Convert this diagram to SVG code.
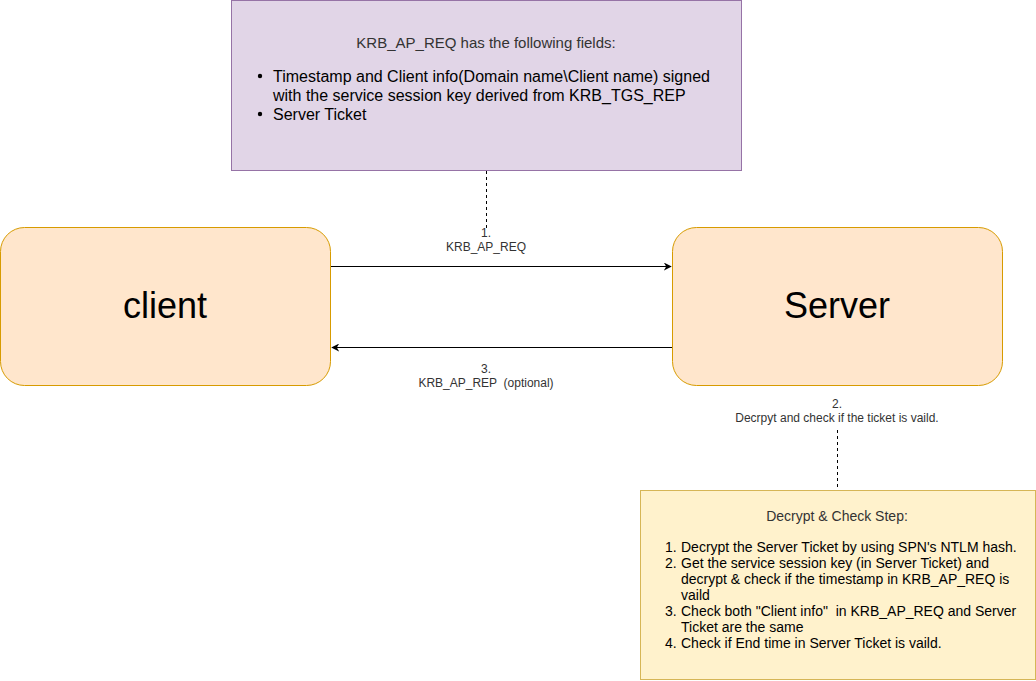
<svg xmlns="http://www.w3.org/2000/svg" width="1036" height="681" viewBox="0 0 1036 681">
<style>
text{font-family:"Liberation Sans",Arial,sans-serif;}
.lbl{font-size:12px;fill:#333;text-anchor:middle;}
.big{font-size:36px;fill:#000;text-anchor:middle;}
.pt{font-size:16px;fill:#000;}
.yt{font-size:14px;fill:#000;}
.conn{stroke:#000;stroke-width:1;fill:none;}
.dash{stroke:#000;stroke-width:1;fill:none;stroke-dasharray:3 3;}
</style>
<defs>
<marker id="arr" viewBox="0 0 10 10" refX="9" refY="5" markerWidth="8" markerHeight="8" markerUnits="userSpaceOnUse" orient="auto">
<path d="M0,0 L10,5 L0,10 L3,5 Z" fill="#000"/>
</marker>
</defs>
<rect width="1036" height="681" fill="#fff"/>
<g id="note-req">
<rect x="231.5" y="0.5" width="510" height="170" fill="#e1d5e7" stroke="#9673a6"/>
<text x="486" y="48" style="font-size:15px;fill:#333;text-anchor:middle">KRB_AP_REQ has the following fields:</text>
<circle cx="260" cy="76" r="2.2" fill="#000"/>
<text class="pt" x="273" y="82">Timestamp and Client info(Domain name\Client name) signed</text>
<text class="pt" x="273" y="101">with the service session key derived from KRB_TGS_REP</text>
<circle cx="260" cy="114" r="2.2" fill="#000"/>
<text class="pt" x="273" y="120">Server Ticket</text>
</g>
<g id="client">
<rect x="0.5" y="227.5" width="330" height="158" rx="24" fill="#ffe6cc" stroke="#d79b00"/>
<text class="big" x="165" y="318">client</text>
</g>
<g id="server">
<rect x="672.5" y="227.5" width="330" height="158" rx="24" fill="#ffe6cc" stroke="#d79b00"/>
<text class="big" x="837" y="318">Server</text>
</g>
<g id="note-check">
<rect x="640.5" y="490.5" width="395" height="189" fill="#fff2cc" stroke="#d6b656"/>
<text x="837" y="521" style="font-size:14px;fill:#333;text-anchor:middle">Decrypt &amp; Check Step:</text>
<text class="yt" x="665" y="552">1.</text>
<text class="yt" x="681" y="552">Decrypt the Server Ticket by using SPN's NTLM hash.</text>
<text class="yt" x="665" y="568">2.</text>
<text class="yt" x="681" y="568">Get the service session key (in Server Ticket) and</text>
<text class="yt" x="681" y="584">decrypt &amp; check if the timestamp in KRB_AP_REQ is</text>
<text class="yt" x="681" y="600">vaild</text>
<text class="yt" x="665" y="616">3.</text>
<text class="yt" x="681" y="616" xml:space="preserve">Check both "Client info"  in KRB_AP_REQ and Server</text>
<text class="yt" x="681" y="632">Ticket are the same</text>
<text class="yt" x="665" y="648">4.</text>
<text class="yt" x="681" y="648">Check if End time in Server Ticket is vaild.</text>
</g>
<g id="connectors">
<line class="dash" x1="486.5" y1="171" x2="486.5" y2="228"/>
<line class="dash" x1="837.5" y1="430" x2="837.5" y2="490"/>
<line class="conn" x1="331" y1="266.5" x2="671" y2="266.5" marker-end="url(#arr)"/>
<line class="conn" x1="672" y1="347.5" x2="332" y2="347.5" marker-end="url(#arr)"/>
<text class="lbl" x="486" y="237">1.</text>
<text class="lbl" x="486" y="251">KRB_AP_REQ</text>
<text class="lbl" x="486" y="373">3.</text>
<text class="lbl" x="486" y="387" xml:space="preserve">KRB_AP_REP  (optional)</text>
<text class="lbl" x="837" y="408">2.</text>
<text class="lbl" x="837" y="422">Decrpyt and check if the ticket is vaild.</text>
</g>
</svg>
